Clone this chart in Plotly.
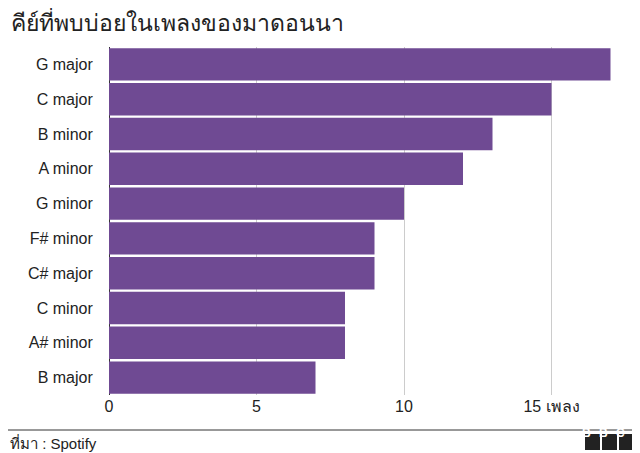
import plotly.graph_objects as go

keys = ["G major", "C major", "B minor", "A minor", "G minor",
        "F# minor", "C# major", "C minor", "A# minor", "B major"]
songs = [17, 15, 13, 12, 10, 9, 9, 8, 8, 7]
tick_vals = [0, 5, 10, 15]
tick_text = ["0", "5", "10", "15 เพลง"]

# page body has an 8px margin, so the figure is offset by 8px
OFF = 8
W, H = 640 - OFF, 453 - OFF
L, R, T, B = 109 - OFF, 0, 47 - OFF, 58
ph = H - T - B

def py(pix):  # reference pixel y -> paper y
    return (453 - B - pix) / ph

def px(pix):
    return (pix - 109) / (W - L - R)

fig = go.Figure(go.Bar(
    x=songs, y=keys, orientation="h",
    marker=dict(color="#6f4a93", line=dict(width=0)),
))

shapes = [dict(type="line", xref="paper", yref="paper", x0=px(OFF), x1=px(640),
               y0=py(430), y1=py(430), line=dict(color="#333", width=1))]
annotations = [
    dict(text="คีย์ที่พบบ่อยในเพลงของมาดอนนา", xref="paper", yref="paper",
         x=px(OFF + 1), y=py(22), xanchor="left", yanchor="middle", showarrow=False,
         font=dict(size=23, color="#222")),
    dict(text="ที่มา : Spotify", xref="paper", yref="paper",
         x=px(OFF), y=py(442), xanchor="left", yanchor="middle", showarrow=False,
         font=dict(size=15, color="#222")),
]
for i, ch in enumerate("BBC"):
    x0 = 585 + i * 17
    shapes.append(dict(type="rect", xref="paper", yref="paper",
                       x0=px(x0), x1=px(x0 + 15), y0=py(450), y1=py(434),
                       fillcolor="#222", line=dict(width=0)))
    annotations.append(dict(text="<b>%s</b>" % ch, xref="paper", yref="paper",
                            x=px(x0 + 7.5), y=py(442), showarrow=False,
                            font=dict(size=12, color="white")))

fig.update_layout(
    width=W, height=H, margin=dict(l=L, r=R, t=T, b=B, autoexpand=False),
    plot_bgcolor="white", paper_bgcolor="white",
    font=dict(family="Liberation Sans, Noto Sans, sans-serif", color="#222"),
    bargap=0.07, showlegend=False,
    shapes=shapes, annotations=annotations,
    xaxis=dict(range=[0, 18], tickvals=tick_vals, ticktext=tick_text,
               showgrid=True, gridcolor="#cccccc", zeroline=True,
               zerolinecolor="#333", zerolinewidth=1, automargin=False,
               tickfont=dict(size=16), ticks="", layer="below traces"),
    yaxis=dict(autorange="reversed", tickfont=dict(size=16), ticks="outside",
               ticklen=12, tickcolor="white", showgrid=False, automargin=False),
)

fig.write_html("out.html")
